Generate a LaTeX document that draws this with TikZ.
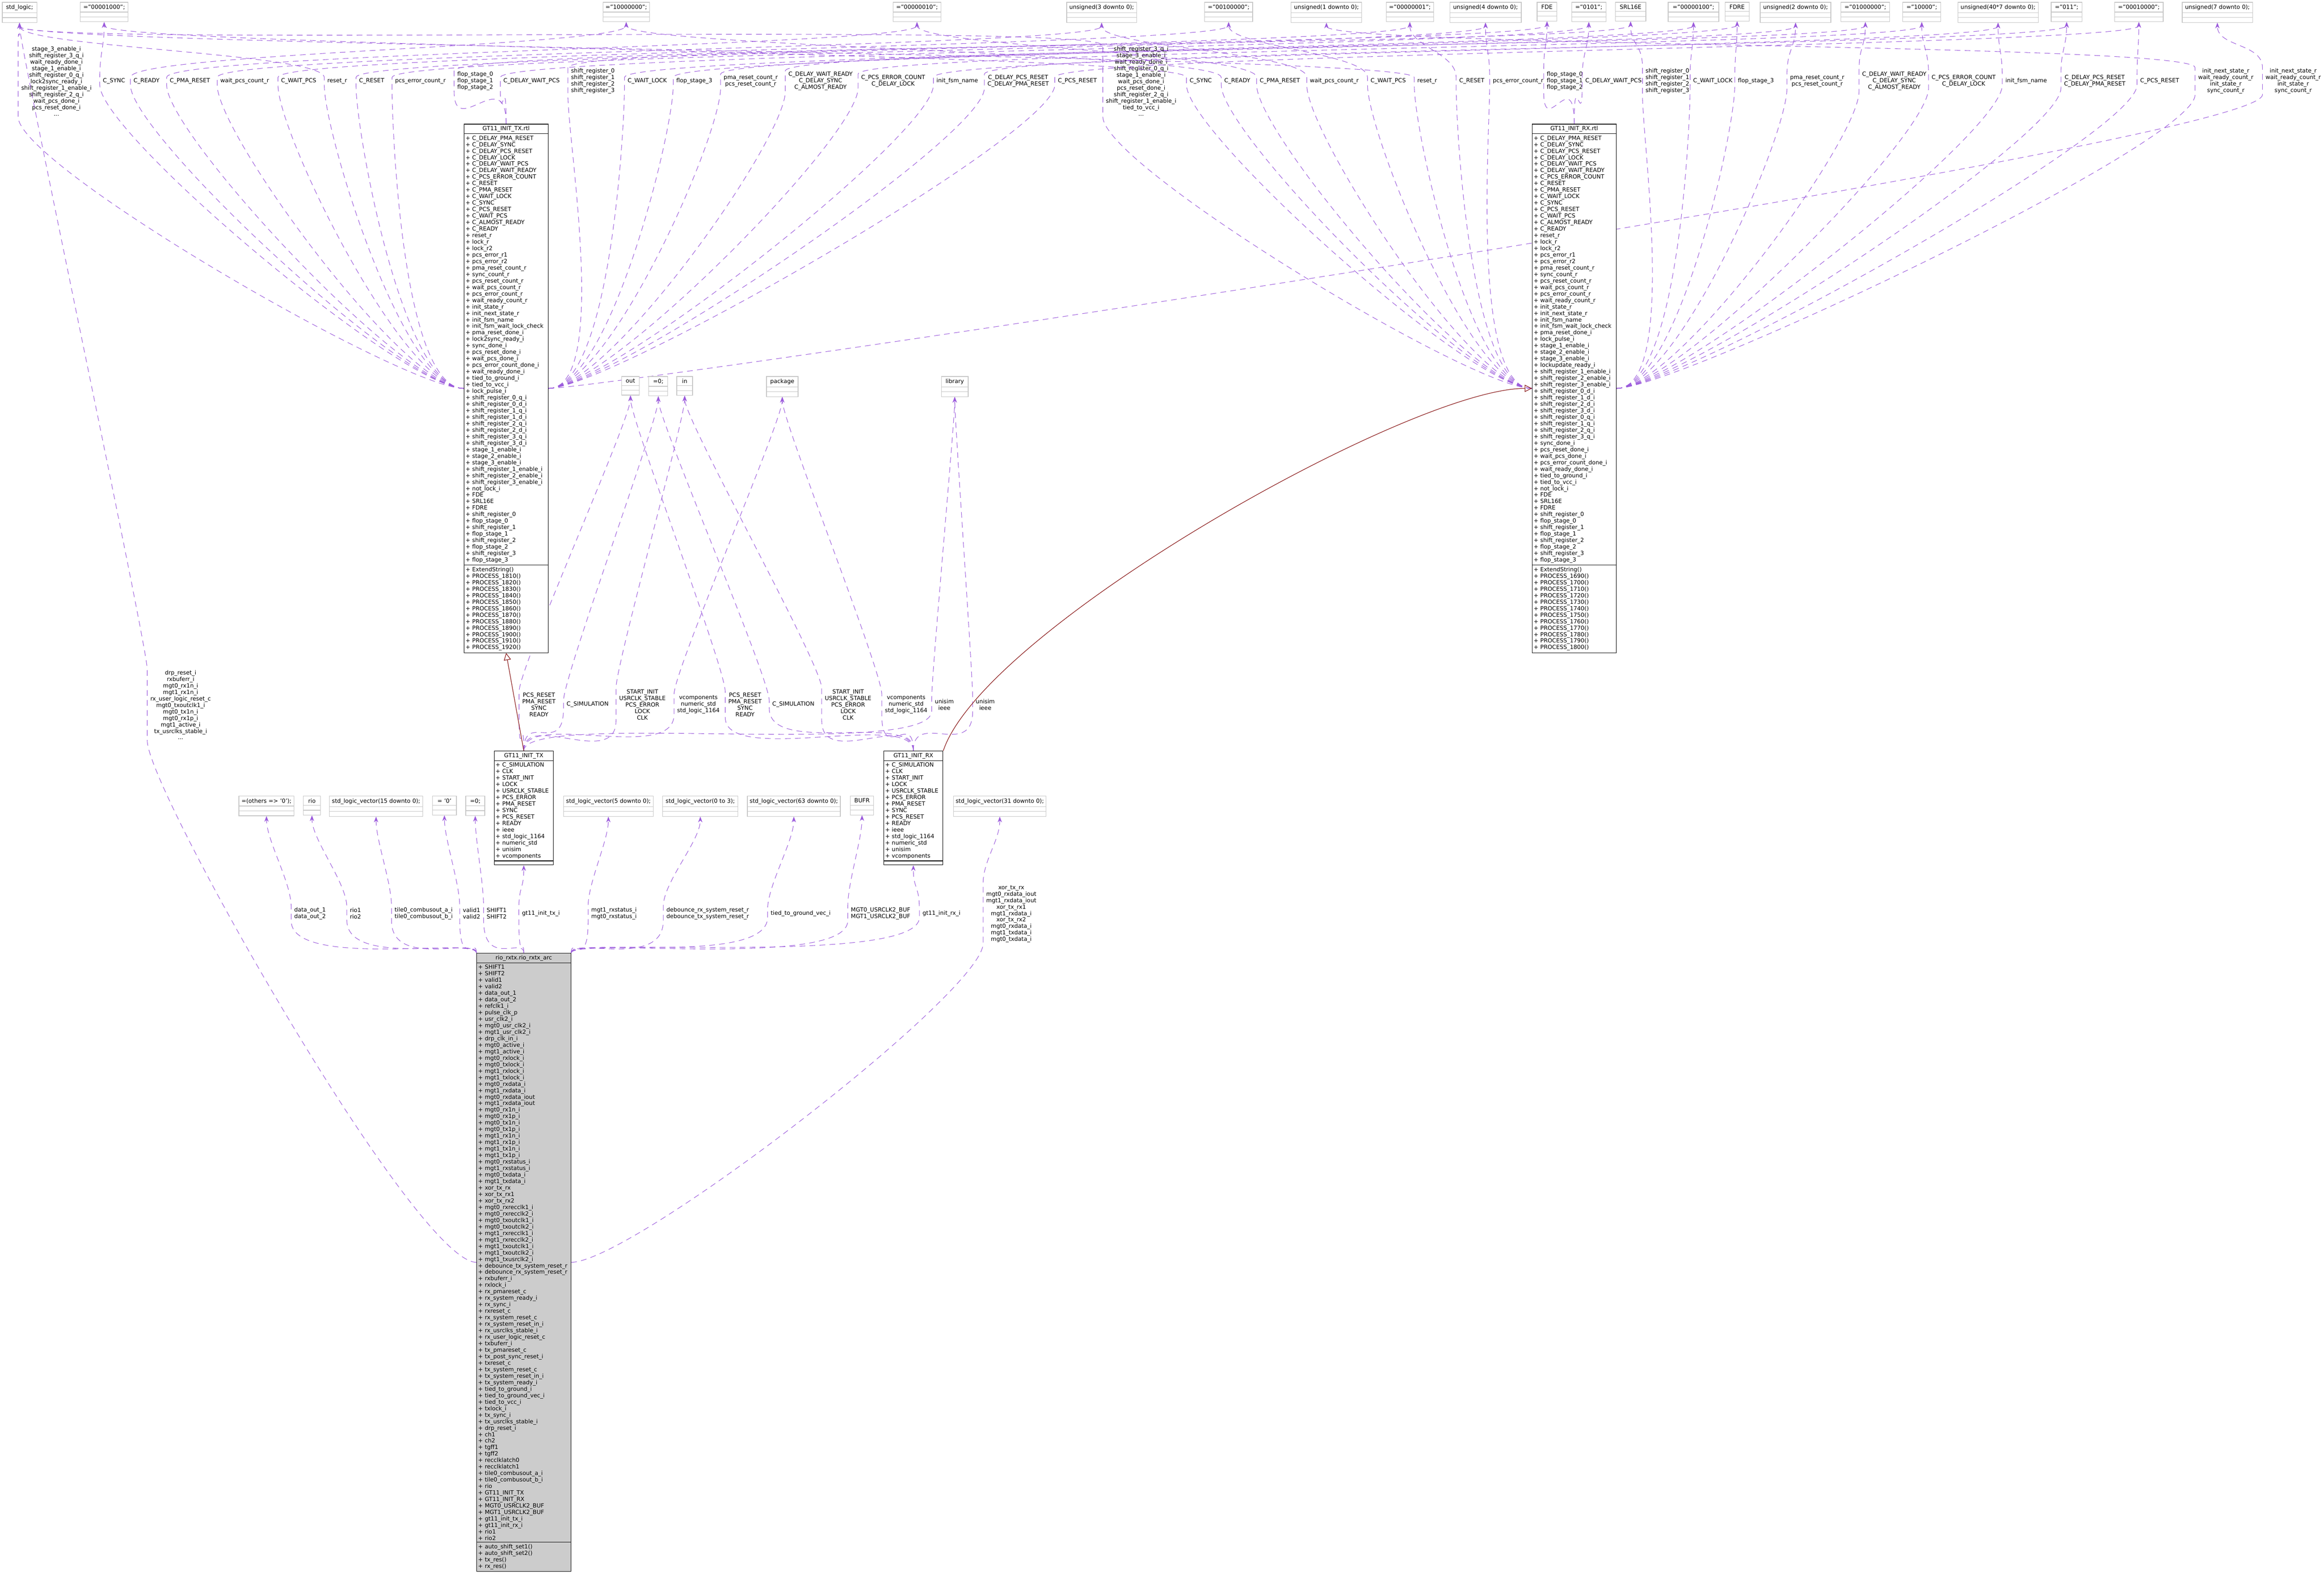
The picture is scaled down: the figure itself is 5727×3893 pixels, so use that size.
\documentclass[tikz,border=0pt]{standalone}
\usepackage{fontspec}
\setmainfont{DejaVu Sans}
\usetikzlibrary{shapes.multipart,arrows.meta,backgrounds}
\definecolor{depcol}{RGB}{155,90,220}
\definecolor{inhcol}{RGB}{139,26,26}
\tikzset{
  every node/.style={font=\fontsize{4}{4.55}\selectfont},
  box/.style={rectangle split, rectangle split parts=3, draw=gray!45, fill=white, line width=0.4pt,
    inner xsep=1pt, inner ysep=1.5pt, anchor=north west, align=center, rectangle split empty part height=4pt},
  cls/.style={rectangle split, rectangle split parts=3, draw=black, fill=white, line width=0.4pt,
    inner xsep=1pt, inner ysep=1.2pt, anchor=north west, rectangle split empty part height=4pt},
  dep/.style={draw=depcol, dash pattern=on 4pt off 3pt, line width=0.35pt, -{Stealth[length=4pt,width=3pt]}},
  inh/.style={draw=inhcol, line width=0.4pt, -{Triangle[open,length=5pt,width=5pt]}},
  lbl/.style={align=center, inner sep=0.5pt},
}
\newcommand\attrs[1]{\raggedright\parindent0pt\foreach \a in {#1}{+ \a\par}}
\newcommand\depvia[4]{\draw[dep] (#1) .. controls +#2 and +(0,120) .. ([xshift=-1.5pt]#3.south west) -- ([xshift=-1.5pt]#3.north west) .. controls +(0,-60) and +(0,60) .. (#4.south);}
\begin{document}
\catcode`\_=12
\begin{tikzpicture}[x=0.1mm,y=-0.1mm]
\useasboundingbox (0,0) rectangle (5727,3893);

% top row of types
\foreach \n/\x/\w/\t in {slogic/5/85/{std_logic;}, bA/197/118/{="00001000";}, bB/1485/115/{="10000000";},
  bC/2200/118/{="00000010";}, uA/2628/172/{unsigned(3 downto 0);}, bD/2968/118/{="00100000";},
  uB/3181/174/{unsigned(1 downto 0);}, bE/3415/117/{="00000001";}, uC/3572/176/{unsigned(4 downto 0);},
  fde/3787/49/{FDE}, bF/3872/85/{="0101";}, srl/3980/75/{SRL16E}, bG/4110/125/{="00000100";},
  fdre/4250/60/{FDRE}, uD/4337/174/{unsigned(2 downto 0);}, bH/4536/120/{="01000000";},
  bI/4688/94/{="10000";}, uE/4824/198/{unsigned(40*7 downto 0);}, bJ/5054/76/{="011";},
  bK/5210/120/{="00010000";}, uF/5377/173/{unsigned(7 downto 0);}}{
  \pgfmathsetmacro\tw{\w/10-0.7}
  \node[box,text width=\tw mm] (\n) at (\x,5) {\t\nodepart{two}\nodepart{three}};
}

% middle row
\foreach \n/\x/\w/\t in {outp/1531/44/out, eqzm/1598/47/{=0;}, inp/1667/39/in, pkg/1888/78/package, lib/2319/66/library}{
  \pgfmathsetmacro\tw{\w/10-0.7}
  \node[box,text width=\tw mm] (\n) at (\x,927) {\t\nodepart{two}\nodepart{three}};
}

% bottom row
\foreach \n/\x/\w/\t in {others/588/136/{=(others => '0');}, rio/747/42/rio, slf/811/230/{std_logic_vector(15 downto 0);},
  qz/1065/59/{= '0'}, eqz/1147/47/{=0;}, slv5/1388/221/{std_logic_vector(5 downto 0);},
  slv03/1632/186/{std_logic_vector(0 to 3);}, slv63/1841/229/{std_logic_vector(63 downto 0);},
  bufr/2095/57/BUFR, slv31/2349/228/{std_logic_vector(31 downto 0);}}{
  \pgfmathsetmacro\tw{\w/10-0.7}
  \node[box,text width=\tw mm] (\n) at (\x,1961) {\t\nodepart{two}\nodepart{three}};
}

\node[cls,text width=20mm] (txrtl) at (1143,305) {\centering GT11_INIT_TX.rtl\par
\nodepart{two}\attrs{C_DELAY_PMA_RESET,C_DELAY_SYNC,C_DELAY_PCS_RESET,C_DELAY_LOCK,C_DELAY_WAIT_PCS,
C_DELAY_WAIT_READY,C_PCS_ERROR_COUNT,C_RESET,C_PMA_RESET,C_WAIT_LOCK,C_SYNC,C_PCS_RESET,C_WAIT_PCS,
C_ALMOST_READY,C_READY,reset_r,lock_r,lock_r2,pcs_error_r1,pcs_error_r2,pma_reset_count_r,sync_count_r,
pcs_reset_count_r,wait_pcs_count_r,pcs_error_count_r,wait_ready_count_r,init_state_r,init_next_state_r,
init_fsm_name,init_fsm_wait_lock_check,pma_reset_done_i,lock2sync_ready_i,sync_done_i,pcs_reset_done_i,
wait_pcs_done_i,pcs_error_count_done_i,wait_ready_done_i,tied_to_ground_i,tied_to_vcc_i,lock_pulse_i,
shift_register_0_q_i,shift_register_0_d_i,shift_register_1_q_i,shift_register_1_d_i,shift_register_2_q_i,
shift_register_2_d_i,shift_register_3_q_i,shift_register_3_d_i,stage_1_enable_i,stage_2_enable_i,
stage_3_enable_i,shift_register_1_enable_i,shift_register_2_enable_i,shift_register_3_enable_i,not_lock_i,
FDE,SRL16E,FDRE,shift_register_0,flop_stage_0,shift_register_1,flop_stage_1,shift_register_2,flop_stage_2,
shift_register_3,flop_stage_3}
\nodepart{three}\attrs{ExtendString(),PROCESS_1810(),PROCESS_1820(),PROCESS_1830(),PROCESS_1840(),
PROCESS_1850(),PROCESS_1860(),PROCESS_1870(),PROCESS_1880(),PROCESS_1890(),PROCESS_1900(),PROCESS_1910(),
PROCESS_1920()}};

\node[cls,text width=20mm] (rxrtl) at (3775,305) {\centering GT11_INIT_RX.rtl\par
\nodepart{two}\attrs{C_DELAY_PMA_RESET,C_DELAY_SYNC,C_DELAY_PCS_RESET,C_DELAY_LOCK,C_DELAY_WAIT_PCS,
C_DELAY_WAIT_READY,C_PCS_ERROR_COUNT,C_RESET,C_PMA_RESET,C_WAIT_LOCK,C_SYNC,C_PCS_RESET,C_WAIT_PCS,
C_ALMOST_READY,C_READY,reset_r,lock_r,lock_r2,pcs_error_r1,pcs_error_r2,pma_reset_count_r,sync_count_r,
pcs_reset_count_r,wait_pcs_count_r,pcs_error_count_r,wait_ready_count_r,init_state_r,init_next_state_r,
init_fsm_name,init_fsm_wait_lock_check,pma_reset_done_i,lock_pulse_i,stage_1_enable_i,stage_2_enable_i,
stage_3_enable_i,lockupdate_ready_i,shift_register_1_enable_i,shift_register_2_enable_i,
shift_register_3_enable_i,shift_register_0_d_i,shift_register_1_d_i,shift_register_2_d_i,
shift_register_3_d_i,shift_register_0_q_i,shift_register_1_q_i,shift_register_2_q_i,shift_register_3_q_i,
sync_done_i,pcs_reset_done_i,wait_pcs_done_i,pcs_error_count_done_i,wait_ready_done_i,tied_to_ground_i,
tied_to_vcc_i,not_lock_i,FDE,SRL16E,FDRE,shift_register_0,flop_stage_0,shift_register_1,flop_stage_1,
shift_register_2,flop_stage_2,shift_register_3,flop_stage_3}
\nodepart{three}\attrs{ExtendString(),PROCESS_1690(),PROCESS_1700(),PROCESS_1710(),PROCESS_1720(),
PROCESS_1730(),PROCESS_1740(),PROCESS_1750(),PROCESS_1760(),PROCESS_1770(),PROCESS_1780(),PROCESS_1790(),
PROCESS_1800()}};

\node[cls,text width=13.9mm] (txs) at (1217,1850) {\centering GT11_INIT_TX\par
\nodepart{two}\attrs{C_SIMULATION,CLK,START_INIT,LOCK,USRCLK_STABLE,PCS_ERROR,PMA_RESET,SYNC,PCS_RESET,
READY,ieee,std_logic_1164,numeric_std,unisim,vcomponents}\nodepart{three}};
\node[cls,text width=13.9mm] (rxs) at (2177,1850) {\centering GT11_INIT_RX\par
\nodepart{two}\attrs{C_SIMULATION,CLK,START_INIT,LOCK,USRCLK_STABLE,PCS_ERROR,PMA_RESET,SYNC,PCS_RESET,
READY,ieee,std_logic_1164,numeric_std,unisim,vcomponents}\nodepart{three}};

\node[cls,text width=22.5mm,fill=gray!40] (main) at (1174,2348) {\centering rio_rxtx.rio_rxtx_arc\par
\nodepart{two}\attrs{SHIFT1,SHIFT2,valid1,valid2,data_out_1,data_out_2,refclk1_i,pulse_clk_p,usr_clk2_i,
mgt0_usr_clk2_i,mgt1_usr_clk2_i,drp_clk_in_i,mgt0_active_i,mgt1_active_i,mgt0_rxlock_i,mgt0_txlock_i,
mgt1_rxlock_i,mgt1_txlock_i,mgt0_rxdata_i,mgt1_rxdata_i,mgt0_rxdata_iout,mgt1_rxdata_iout,mgt0_rx1n_i,
mgt0_rx1p_i,mgt0_tx1n_i,mgt0_tx1p_i,mgt1_rx1n_i,mgt1_rx1p_i,mgt1_tx1n_i,mgt1_tx1p_i,mgt0_rxstatus_i,
mgt1_rxstatus_i,mgt0_txdata_i,mgt1_txdata_i,xor_tx_rx,xor_tx_rx1,xor_tx_rx2,mgt0_rxrecclk1_i,
mgt0_rxrecclk2_i,mgt0_txoutclk1_i,mgt0_txoutclk2_i,mgt1_rxrecclk1_i,mgt1_rxrecclk2_i,mgt1_txoutclk1_i,
mgt1_txoutclk2_i,mgt1_txusrclk2_i,debounce_tx_system_reset_r,debounce_rx_system_reset_r,rxbuferr_i,
rxlock_i,rx_pmareset_c,rx_system_ready_i,rx_sync_i,rxreset_c,rx_system_reset_c,rx_system_reset_in_i,
rx_usrclks_stable_i,rx_user_logic_reset_c,txbuferr_i,tx_pmareset_c,tx_post_sync_reset_i,txreset_c,
tx_system_reset_c,tx_system_reset_in_i,tx_system_ready_i,tied_to_ground_i,tied_to_ground_vec_i,
tied_to_vcc_i,txlock_i,tx_sync_i,tx_usrclks_stable_i,drp_reset_i,ch1,ch2,tgff1,tgff2,recclklatch0,
recclklatch1,tile0_combusout_a_i,tile0_combusout_b_i,rio,GT11_INIT_TX,GT11_INIT_RX,MGT0_USRCLK2_BUF,
MGT1_USRCLK2_BUF,gt11_init_tx_i,gt11_init_rx_i,rio1,rio2}
\nodepart{three}\attrs{auto_shift_set1(),auto_shift_set2(),tx_res(),rx_res()}};

% labels and dependency edges
\begin{scope}[on background layer]
\fill[white] (0,0) rectangle (5727,3893);
\foreach \x/\t/\d in {139/{stage_3_enable_i\\shift_register_3_q_i\\wait_ready_done_i\\stage_1_enable_i\\shift_register_0_q_i\\lock2sync_ready_i\\shift_register_1_enable_i\\shift_register_2_q_i\\wait_pcs_done_i\\pcs_reset_done_i\\...}/slogic,
  281/C_SYNC/bA, 361/C_READY/bB, 468/C_PMA_RESET/bC, 603/wait_pcs_count_r/uA, 736/C_WAIT_PCS/bD,
  831/reset_r/slogic, 916/C_RESET/bE, 1036/pcs_error_count_r/uC,
  1171/{flop_stage_0\\flop_stage_1\\flop_stage_2}/fde, 1310/C_DELAY_WAIT_PCS/bF,
  1461/{shift_register_0\\shift_register_1\\shift_register_2\\shift_register_3}/srl, 1595/C_WAIT_LOCK/bG,
  1711/flop_stage_3/fdre, 1850/{pma_reset_count_r\\pcs_reset_count_r}/uD,
  2022/{C_DELAY_WAIT_READY\\C_DELAY_SYNC\\C_ALMOST_READY}/bH, 2201/{C_PCS_ERROR_COUNT\\C_DELAY_LOCK}/bI,
  2359/init_fsm_name/uE, 2509/{C_DELAY_PCS_RESET\\C_DELAY_PMA_RESET}/bJ, 2655/C_PCS_RESET/bK,
  5651/{init_next_state_r\\wait_ready_count_r\\init_state_r\\sync_count_r}/uF}{
  \node[lbl] (t\x) at (\x,200) {\t};
  \ifnum\x<1143 \def\ou{(-150,0)}\def\an{west}\else\ifnum\x>1350 \def\ou{(150,0)}\def\an{east}\else\def\ou{(0,-150)}\def\an{north}\fi\fi
  \depvia{txrtl.\an}{\ou}{t\x}{\d}
}
\foreach \x/\t/\d in {2812/{shift_register_3_q_i\\stage_3_enable_i\\wait_ready_done_i\\shift_register_0_q_i\\stage_1_enable_i\\wait_pcs_done_i\\pcs_reset_done_i\\shift_register_2_q_i\\shift_register_1_enable_i\\tied_to_vcc_i\\...}/slogic,
  2959/C_SYNC/bA, 3049/C_READY/bB, 3154/C_PMA_RESET/bC, 3288/wait_pcs_count_r/uA, 3421/C_WAIT_PCS/bD,
  3517/reset_r/slogic, 3627/C_RESET/bE, 3741/pcs_error_count_r/uC,
  3856/{flop_stage_0\\flop_stage_1\\flop_stage_2}/fde, 3976/C_DELAY_WAIT_PCS/bF,
  4109/{shift_register_0\\shift_register_1\\shift_register_2\\shift_register_3}/srl, 4221/C_WAIT_LOCK/bG,
  4327/flop_stage_3/fdre, 4478/{pma_reset_count_r\\pcs_reset_count_r}/uD,
  4668/{C_DELAY_WAIT_READY\\C_DELAY_SYNC\\C_ALMOST_READY}/bH, 4839/{C_PCS_ERROR_COUNT\\C_DELAY_LOCK}/bI,
  4993/init_fsm_name/uE, 5162/{C_DELAY_PCS_RESET\\C_DELAY_PMA_RESET}/bJ, 5322/C_PCS_RESET/bK,
  5485/{init_next_state_r\\wait_ready_count_r\\init_state_r\\sync_count_r}/uB}{
  \node[lbl] (t\x) at (\x,200) {\t};
  \ifnum\x<3775 \def\ou{(-150,0)}\def\an{west}\else\ifnum\x>3983 \def\ou{(150,0)}\def\an{east}\else\def\ou{(0,-150)}\def\an{north}\fi\fi
  \depvia{rxrtl.\an}{\ou}{t\x}{\d}
}
\foreach \x/\t/\d/\s in {1328/{PCS_RESET\\PMA_RESET\\SYNC\\READY}/outp/txs, 1448/C_SIMULATION/eqzm/txs,
  1583/{START_INIT\\USRCLK_STABLE\\PCS_ERROR\\LOCK\\CLK}/inp/txs, 1721/{vcomponents\\numeric_std\\std_logic_1164}/pkg/txs,
  2327/{unisim\\ieee}/lib/txs,
  1836/{PCS_RESET\\PMA_RESET\\SYNC\\READY}/outp/rxs, 1955/C_SIMULATION/eqzm/rxs,
  2090/{START_INIT\\USRCLK_STABLE\\PCS_ERROR\\LOCK\\CLK}/inp/rxs, 2233/{vcomponents\\numeric_std\\std_logic_1164}/pkg/rxs,
  2428/{unisim\\ieee}/lib/rxs}{
  \node[lbl] (m\x) at (\x,1736) {\t};
  \depvia{\s.north}{(0,-100)}{m\x}{\d}
}
\foreach \x/\t/\d/\s in {764/{data_out_1\\data_out_2}/others/main.north west, 876/{rio1\\rio2}/rio/main.north west,
  1044/{tile0_combusout_a_i\\tile0_combusout_b_i}/slf/main.north west, 1162/{valid1\\valid2}/qz/main.north west,
  1224/{SHIFT1\\SHIFT2}/eqz/main.north, 1333/gt11_init_tx_i/txs/main.north,
  1513/{mgt1_rxstatus_i\\mgt0_rxstatus_i}/slv5/main.north east,
  1744/{debounce_rx_system_reset_r\\debounce_tx_system_reset_r}/slv03/main.north east,
  1973/tied_to_ground_vec_i/slv63/main.north east, 2170/{MGT0_USRCLK2_BUF\\MGT1_USRCLK2_BUF}/bufr/main.north east,
  2320/gt11_init_rx_i/rxs/main.north east}{
  \node[lbl] (b\x) at (\x,2251) {\t};
  \depvia{\s}{(0,-40)}{b\x}{\d}
}
\node[lbl] (b2492) at (2492,2252) {xor_tx_rx\\mgt0_rxdata_iout\\mgt1_rxdata_iout\\xor_tx_rx1\\mgt1_rxdata_i\\xor_tx_rx2\\mgt0_rxdata_i\\mgt1_txdata_i\\mgt0_txdata_i};
\depvia{main.east}{(150,0)}{b2492}{slv31}
\node[lbl] (d445) at (445,1737) {drp_reset_i\\rxbuferr_i\\mgt0_rx1n_i\\mgt1_rx1n_i\\rx_user_logic_reset_c\\mgt0_txoutclk1_i\\mgt0_tx1n_i\\mgt0_rx1p_i\\mgt1_active_i\\tx_usrclks_stable_i\\...};
\depvia{main.west}{(-150,0)}{d445}{slogic}
\draw[inh] (txs.north) -- (txrtl.south);
\draw[inh] (rxs.north east) .. controls +(100,-300) and +(-300,0) .. (rxrtl.west);
\end{scope}
\end{tikzpicture}
\end{document}
